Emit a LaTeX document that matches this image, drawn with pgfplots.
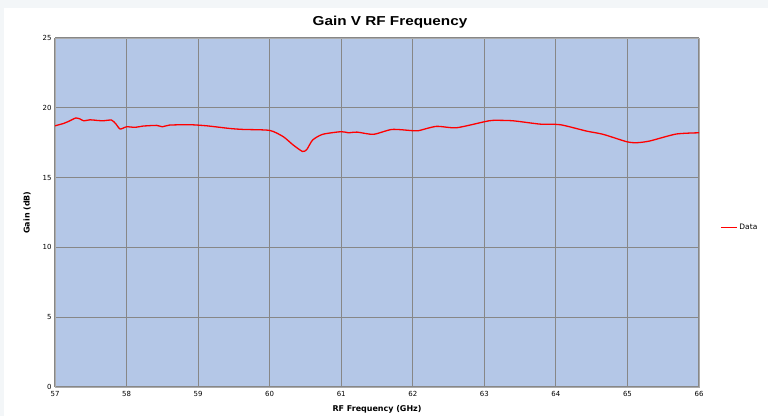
\documentclass[border=0pt]{standalone}
\usepackage{fontspec}
\setmainfont{DejaVu Sans}
\newfontfamily\titlefont{Liberation Sans}
\usepackage{pgfplots}
\pgfplotsset{compat=1.18}

\definecolor{pagebg}{HTML}{F3F6F8}
\definecolor{plotbg}{HTML}{B4C7E7}
\definecolor{gridc}{HTML}{878787}

\pgfplotstableread{
f      gain
57.00  18.71
57.12  18.88
57.20  19.05
57.29  19.27
57.35  19.20
57.40  19.07
57.49  19.14
57.58  19.10
57.67  19.07
57.79  19.12
57.85  18.85
57.91  18.48
58.00  18.64
58.12  18.60
58.23  18.69
58.42  18.74
58.50  18.64
58.60  18.76
58.88  18.79
59.12  18.71
59.44  18.52
59.63  18.45
60.00  18.38
60.19  17.93
60.33  17.33
60.46  16.87
60.52  17.02
60.60  17.69
60.74  18.10
61.00  18.29
61.10  18.21
61.22  18.26
61.45  18.10
61.71  18.45
62.00  18.36
62.08  18.36
62.33  18.67
62.61  18.57
63.00  19.00
63.12  19.10
63.40  19.07
63.78  18.83
64.06  18.79
64.43  18.33
64.66  18.10
64.99  17.57
65.13  17.50
65.31  17.62
65.68  18.12
66.00  18.21
}\gaindata

\begin{document}
\begin{tikzpicture}[x=1bp,y=1bp]
\useasboundingbox (0,0) rectangle (768,416);
\fill[pagebg] (0,0) rectangle (768,416);
\fill[white] (4,0) rectangle (768,408);
\node[anchor=base, xscale=1.18, font=\titlefont\bfseries\fontsize{13}{15}\selectfont]
  at (390,390) {Gain V RF Frequency};
\begin{axis}[
    at={(55bp,29bp)}, anchor=south west,
    width=644bp, height=349bp, scale only axis,
    xmin=57, xmax=66, ymin=0, ymax=25,
    xtick={57,58,...,66}, ytick={0,5,...,25},
    grid=major,
    major grid style={gridc, line width=1.1bp},
    axis background/.style={fill=plotbg},
    axis line style={gridc!70},
    tick style={draw=none},
    /pgf/number format/assume math mode=true,
    ticklabel style={font=\fontsize{7}{8}\selectfont},
    xticklabel style={yshift=-1bp},
    xlabel={RF Frequency (GHz)},
    ylabel={Gain (dB)},
    label style={font=\fontsize{8}{9}\selectfont\bfseries},
    xlabel style={yshift=-2bp},
    ylabel style={yshift=5bp},
    legend style={at={(axis description cs:1,0.457)}, anchor=west, xshift=18bp,
      draw=none, fill=none, font=\fontsize{7.5}{9}\selectfont},
    legend image code/.code={\color{red}\draw[red, line width=1.3bp] (0bp,0bp) -- (16bp,0bp);},
]
\addplot[red, line width=1.3bp, smooth, tension=0.4] table[x=f, y=gain] {\gaindata};
\addlegendentry{Data}
\end{axis}
\end{tikzpicture}
\end{document}
